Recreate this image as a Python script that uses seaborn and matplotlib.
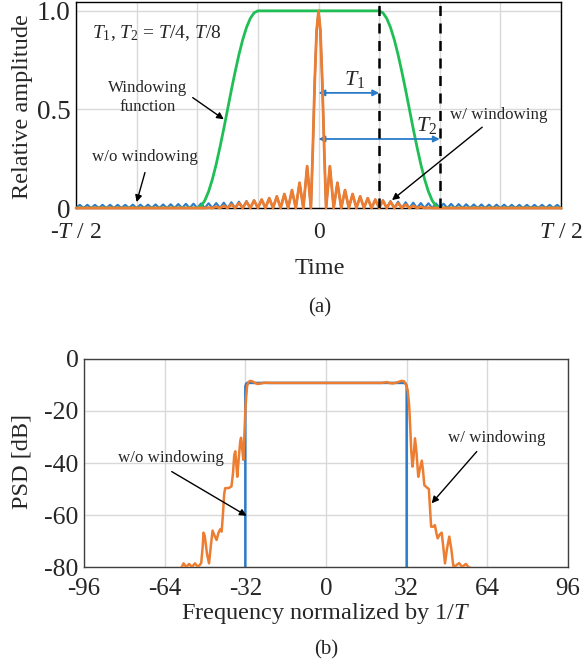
import matplotlib
matplotlib.use("Agg")
import matplotlib.pyplot as plt
import numpy as np
import pandas as pd
import seaborn as sns

# ---------------- data ----------------
# Time axis in units of T/64 (so -T/2 -> -32, T/2 -> 32)
time_tick_pos = [-32, 0, 32]
time_tick_labels = ["-$T$ / 2", "0", "$T$ / 2"]
amp_ticks = [0, 0.5, 1.0]
amp_tick_labels = ["0", "0.5", "1.0"]

# main lobe (offset from 0, amplitude)
main_lobe_offset = [0.0, 0.25, 0.5, 0.75, 1.0]
main_lobe_amp = [1.0, 0.90, 0.64, 0.30, 0.0]

# side-lobe peak heights, one per lobe (k = 1, 2, ...), w/o windowing
blue_sidelobe_peaks = [0.212, 0.128, 0.091, 0.071, 0.059, 0.050, 0.043, 0.039,
                       0.035, 0.032, 0.029, 0.027, 0.025, 0.024, 0.023, 0.022,
                       0.021, 0.020, 0.019, 0.018, 0.018, 0.017, 0.017, 0.017,
                       0.016, 0.016, 0.016, 0.016, 0.016, 0.016, 0.016]
# side-lobe peak heights with windowing
orange_sidelobe_peaks = [0.212, 0.128, 0.091, 0.071, 0.059, 0.050, 0.043, 0.038,
                         0.032, 0.025, 0.018, 0.011, 0.006, 0.002, 0.0]

# windowing function (right half, |t| in T/64 units)
window_t = [0, 8, 8.5, 9, 9.5, 10, 10.5, 11, 11.5, 12, 12.5, 13, 13.5, 14,
            14.5, 15, 15.5, 16, 32]
window_amp = [1.0, 1.0, 0.990, 0.962, 0.916, 0.854, 0.778, 0.691, 0.598, 0.5,
              0.402, 0.309, 0.222, 0.146, 0.084, 0.038, 0.010, 0.0, 0.0]

T1_pos = 8    # T/8
T2_pos = 16   # T/4

# PSD (frequency normalised by 1/T, dB)
freq_ticks = [-96, -64, -32, 0, 32, 64, 96]
psd_ticks = [0, -20, -40, -60, -80]

blue_psd_f = [-32, -32, -31.6, -31.2, 31.2, 31.6, 32, 32]
blue_psd_db = [-85, -10.5, -9.4, -9.2, -9.2, -9.4, -10.5, -85]

orange_psd_f = [-57.5, -56.5, -55.5, -54.3, -53.2, -52.0, -50.8, -49.5, -48.9,
                -48.6, -48.1, -47.2, -46.4, -45.7, -45.0, -44.2, -43.4, -42.7,
                -42.0, -41.4, -40.9, -40.4, -40.0, -38.5, -37.5, -36.9, -36.4,
                -36.0, -35.6, -35.2, -34.6, -34.0, -33.7, -33.3, -32.8, -32.4,
                -32.0, -31.7, -31.3, -30.8, -30.1, -29.2, -28.2, -27.2, -26.2,
                -24.5, -22.0,
                22.0, 24.1, 25.5, 26.7, 28.2, 30.0, 31.0, 31.8, 32.4, 33.0,
                33.4, 33.8, 34.3, 34.7, 35.3, 35.9, 36.6, 37.3, 38.0, 38.5,
                39.0, 40.0, 40.8, 41.3, 41.7, 42.5, 43.2, 43.8, 44.3, 45.1,
                45.9, 46.5, 47.2, 48.0, 48.9, 49.7, 50.5, 51.5, 52.8, 54.0,
                55.5, 56.5, 57.5]
orange_psd_db = [-80.5, -78.6, -80.0, -78.8, -80.0, -78.6, -80.0, -78.5, -72.0,
                 -66.8, -68.0, -75.0, -78.6, -72.0, -66.0, -68.0, -69.6, -67.0,
                 -65.5, -66.4, -60.0, -52.0, -49.7, -49.6, -49.0, -44.0, -37.0,
                 -35.5, -40.0, -45.3, -38.0, -31.5, -30.3, -34.0, -38.8, -30.0,
                 -20.0, -15.0, -10.5, -8.9, -8.4, -8.6, -9.2, -9.6, -9.5,
                 -9.1, -9.2,
                 -9.2, -8.9, -9.3, -9.4, -9.0, -8.4, -8.6, -10.0, -12.0, -18.0,
                 -26.0, -35.0, -41.4, -38.0, -30.5, -36.0, -45.3, -42.0, -39.1, -43.0,
                 -48.5, -49.4, -50.0, -58.0, -64.5, -64.5, -63.9, -67.0, -69.0, -67.5,
                 -66.8, -72.0, -78.6, -73.0, -68.3, -73.0, -79.6, -79.5, -78.5, -80.0,
                 -78.8, -80.0, -80.5]

# ---------------- build curves from the read values ----------------
def build_pulse(peaks, end=32):
    xs = list(main_lobe_offset)
    ys = list(main_lobe_amp)
    for k, p in enumerate(peaks, start=1):
        xs += [k + 0.5, k + 1]
        ys += [p, 0.0]
    if xs[-1] < end:
        xs.append(end)
        ys.append(0.0)
    left_x = [-v for v in xs[::-1][:-1]]
    left_y = ys[::-1][:-1]
    return left_x + xs, left_y + ys

blue_t, blue_a = build_pulse(blue_sidelobe_peaks)
orange_t, orange_a = build_pulse(orange_sidelobe_peaks)
win_x = [-v for v in window_t[::-1][:-1]] + window_t
win_y = window_amp[::-1][:-1] + window_amp

df_blue = pd.DataFrame({"t": blue_t, "a": blue_a})
df_orange = pd.DataFrame({"t": orange_t, "a": orange_a})
df_win = pd.DataFrame({"t": win_x, "a": win_y})
df_bpsd = pd.DataFrame({"f": blue_psd_f, "db": blue_psd_db})
df_opsd = pd.DataFrame({"f": orange_psd_f, "db": orange_psd_db})

# ---------------- styling ----------------
sns.set_theme(style="white")
plt.rcParams["font.family"] = ["Liberation Serif", "DejaVu Serif"]
plt.rcParams["mathtext.fontset"] = "custom"
plt.rcParams["mathtext.rm"] = "Liberation Serif"
plt.rcParams["mathtext.it"] = "Liberation Serif:italic"
plt.rcParams["axes.unicode_minus"] = False

BLUE = "#2A7BC8"
ORANGE = "#ED7D31"
GREEN = "#1FBF55"
GRID = "#D9D9D9"

fig = plt.figure(figsize=(5.87, 6.66), dpi=100)
ax1 = fig.add_axes([76 / 587, 1 - 208 / 666, 485 / 587, 206 / 666])
ax2 = fig.add_axes([84 / 587, 1 - 567 / 666, 484 / 587, 208 / 666])

# ---------------- top panel ----------------
sns.lineplot(data=df_blue, x="t", y="a", ax=ax1, color=BLUE, lw=1.5,
             estimator=None, sort=False, zorder=2)
sns.lineplot(data=df_win, x="t", y="a", ax=ax1, color=GREEN, lw=2.0,
             estimator=None, sort=False, zorder=3)
sns.lineplot(data=df_orange, x="t", y="a", ax=ax1, color=ORANGE, lw=2.0,
             estimator=None, sort=False, zorder=4, clip_on=False)
for xv in (T1_pos, T2_pos):
    ax1.axvline(xv, color="black", lw=1.8, ls=(0, (4, 3)), zorder=5)

ax1.set_xlim(-32, 32)
ax1.set_ylim(0, 1.045)
ax1.set_xticks(time_tick_pos)
ax1.set_xticklabels(time_tick_labels)
ax1.set_xticks([-24, -16, -8, 8, 16, 24], minor=True)
ax1.set_yticks(amp_ticks)
ax1.set_yticklabels(amp_tick_labels)
ax1.grid(True, which="both", color=GRID, lw=1.0, zorder=0)
ax1.set_axisbelow(True)
ax1.tick_params(which="both", length=0)
ax1.tick_params(axis="x", pad=10, labelsize=17)
ax1.tick_params(axis="y", pad=4, labelsize=19.5)
ax1.set_xlabel("")
ax1.set_ylabel("Relative amplitude", fontsize=17.5)
ax1.yaxis.set_label_coords(-0.089, 0.49)
for s in ax1.spines.values():
    s.set_color("black")
    s.set_linewidth(1.0)

ax1.text(-29.9, 0.888, r"$T_1$, $T_2$ = $T$/4, $T$/8", fontsize=14,
         ha="left", va="center")
ax1.text(4.8, 0.65, r"$T_1$", fontsize=16, ha="center", va="center")
ax1.text(14.3, 0.42, r"$T_2$", fontsize=16, ha="center", va="center")
ax1.annotate("", xy=(0, 0.584), xytext=(T1_pos, 0.584),
             arrowprops=dict(arrowstyle="<|-|>", color=BLUE, lw=1.3,
                             mutation_scale=9, shrinkA=0, shrinkB=0))
ax1.annotate("", xy=(0, 0.35), xytext=(T2_pos, 0.35),
             arrowprops=dict(arrowstyle="<|-|>", color=BLUE, lw=1.3,
                             mutation_scale=9, shrinkA=0, shrinkB=0))
arrow_kw = dict(arrowstyle="-|>", color="black", lw=1.0, mutation_scale=10,
                shrinkA=0, shrinkB=0)
ax1.text(-22.6, 0.56, "Windowing\nfunction", fontsize=12.2, ha="center",
         va="center", linespacing=1.2)
ax1.annotate("", xy=(-12.5, 0.45), xytext=(-16.6, 0.56), arrowprops=arrow_kw)
ax1.text(-22.9, 0.26, "w/o windowing", fontsize=12.2, ha="center", va="center")
ax1.annotate("", xy=(-24.0, 0.03), xytext=(-22.9, 0.18), arrowprops=arrow_kw)
ax1.text(23.8, 0.47, "w/ windowing", fontsize=12.2, ha="center", va="center")
ax1.annotate("", xy=(9.7, 0.04), xytext=(21.6, 0.41), arrowprops=arrow_kw)

fig.text(320 / 587, 1 - 268 / 666, "Time", fontsize=17.5, ha="center", va="center")
fig.text(320 / 587, 1 - 308 / 666, "(a)", fontsize=15, ha="center", va="center")

# ---------------- bottom panel ----------------
sns.lineplot(data=df_bpsd, x="f", y="db", ax=ax2, color=BLUE, lw=1.8,
             estimator=None, sort=False, zorder=2)
sns.lineplot(data=df_opsd, x="f", y="db", ax=ax2, color=ORANGE, lw=1.8,
             estimator=None, sort=False, zorder=3)
ax2.set_xlim(-96, 96)
ax2.set_ylim(-80, 0)
ax2.set_xticks(freq_ticks)
ax2.set_xticklabels([str(v) for v in freq_ticks])
ax2.set_yticks(psd_ticks)
ax2.set_yticklabels([str(v) for v in psd_ticks])
ax2.grid(True, color=GRID, lw=1.0, zorder=0)
ax2.set_axisbelow(True)
ax2.tick_params(length=0)
ax2.tick_params(axis="x", pad=8, labelsize=18)
ax2.tick_params(axis="y", pad=4, labelsize=18.5)
ax2.set_xlabel("")
ax2.set_ylabel("PSD [dB]", fontsize=17.5)
ax2.yaxis.set_label_coords(-0.107, 0.505)
for s in ax2.spines.values():
    s.set_color("#404040")
    s.set_linewidth(1.0)

ax2.text(-61.5, -38.1, "w/o windowing", fontsize=12.2, ha="center", va="center")
ax2.annotate("", xy=(-31.5, -60.3), xytext=(-61.2, -43.3), arrowprops=arrow_kw)
ax2.text(67.8, -30.4, "w/ windowing", fontsize=12.2, ha="center", va="center")
ax2.annotate("", xy=(41.9, -55.5), xytext=(59.8, -35.6), arrowprops=arrow_kw)

fig.text(326 / 587, 1 - 614 / 666, "Frequency normalized by 1/$T$", fontsize=17.5,
         ha="center", va="center")
fig.text(326 / 587, 1 - 650 / 666, "(b)", fontsize=15, ha="center", va="center")

fig.savefig("out.png", dpi=100)
